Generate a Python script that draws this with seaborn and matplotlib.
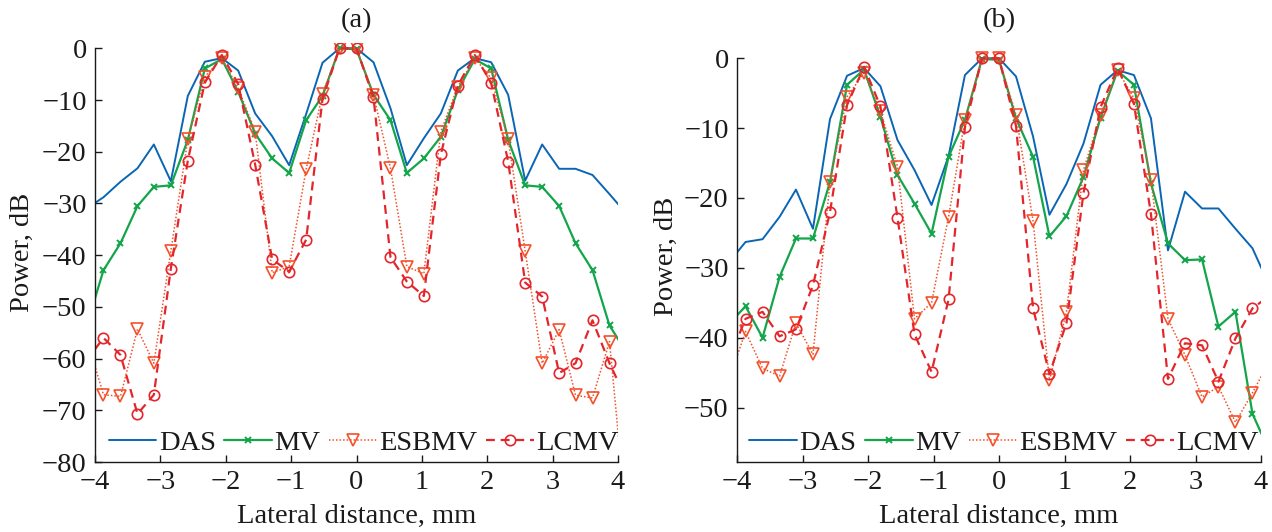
import matplotlib
matplotlib.use("Agg")
import matplotlib.pyplot as plt
import seaborn as sns

# Lateral sample positions, mm (the outermost samples fall just outside the axis range)
lateral_mm = [-4.13, -3.87, -3.61, -3.35, -3.10, -2.84, -2.58, -2.32, -2.06, -1.81, -1.55,
              -1.29, -1.03, -0.77, -0.52, -0.26, 0.00, 0.26, 0.52, 0.77, 1.03, 1.29,
              1.55, 1.81, 2.06, 2.32, 2.58, 2.84, 3.10, 3.35, 3.61, 3.87, 4.13]

# Panel (a): beam power profiles, dB
das_a = [-31.0, -28.8, -25.8, -23.2, -18.6, -25.7, -9.2, -2.6, -1.9, -4.3, -12.6,
         -17.0, -22.6, -12.7, -2.8, 0.0, 0.0, -2.7, -11.6, -22.6, -17.4, -12.6,
         -4.3, -1.9, -2.7, -9.0, -25.6, -18.6, -23.3, -23.3, -24.5, -28.2, -32.0]
mv_a = [-53.8, -42.9, -37.7, -30.5, -26.8, -26.5, -17.7, -3.9, -2.1, -8.4, -16.5,
        -21.3, -24.1, -13.9, -9.2, 0.0, -0.2, -9.0, -13.9, -24.1, -21.3, -17.1,
        -8.1, -2.1, -3.9, -17.7, -26.5, -26.8, -30.5, -37.7, -42.9, -53.6, -58.8]
esbmv_a = [-56.0, -67.0, -67.3, -54.3, -60.9, -39.2, -17.6, -5.5, -1.9, -7.7, -16.1,
           -43.4, -42.2, -23.4, -8.8, 0.0, 0.0, -9.0, -23.2, -42.2, -43.6, -16.1,
           -7.4, -1.9, -5.8, -17.6, -39.2, -60.9, -54.4, -67.1, -67.6, -56.7, -91.5]
lcmv_a = [-60.4, -56.0, -59.3, -70.7, -67.0, -42.6, -21.7, -6.6, -1.3, -6.9, -22.5,
          -40.8, -43.2, -37.0, -9.8, 0.0, 0.0, -9.5, -40.4, -45.1, -47.9, -20.5,
          -7.2, -1.3, -6.7, -21.9, -45.3, -48.0, -62.8, -60.9, -52.6, -60.9, -67.9]

# Panel (b): beam power profiles, dB
das_b = [-29.3, -26.3, -25.9, -22.7, -18.8, -24.4, -8.7, -2.5, -1.4, -4.0, -11.7,
         -16.0, -21.0, -14.0, -2.4, 0.0, 0.0, -2.6, -11.2, -22.4, -18.0, -12.2,
         -3.8, -1.7, -2.4, -8.6, -27.5, -19.1, -21.5, -21.5, -24.4, -27.2, -32.6]
mv_b = [-38.1, -35.5, -40.0, -31.3, -25.8, -25.8, -17.7, -3.8, -1.6, -8.4, -16.7,
        -20.8, -25.1, -14.1, -8.8, -0.1, -0.2, -8.6, -14.1, -25.5, -22.6, -17.0,
        -8.5, -1.8, -3.8, -17.9, -26.5, -28.9, -28.8, -38.4, -36.3, -50.9, -56.3]
esbmv_b = [-46.3, -39.1, -44.4, -45.5, -37.9, -42.4, -17.7, -5.5, -2.1, -7.6, -15.5,
           -37.3, -35.0, -22.7, -8.8, 0.0, 0.0, -8.1, -23.3, -46.1, -36.3, -16.0,
           -8.1, -1.7, -5.7, -17.4, -37.3, -42.5, -48.5, -47.0, -52.1, -47.9, -43.3]
lcmv_b = [-43.3, -37.3, -36.3, -39.8, -38.8, -32.5, -22.0, -6.7, -1.2, -6.9, -22.8,
          -39.5, -44.9, -34.5, -9.9, 0.0, 0.0, -9.7, -35.8, -45.2, -37.9, -19.3,
          -7.0, -1.4, -6.5, -22.3, -45.9, -40.8, -41.1, -46.3, -40.1, -35.8, -34.0]

method_names = ["DAS", "MV", "ESBMV", "LCMV"]
x_ticks = [-4, -3, -2, -1, 0, 1, 2, 3, 4]

FS = 20.5
sns.set_theme(style="ticks")
plt.rcParams.update({
    "font.family": ["Liberation Serif", "DejaVu Serif"],
    "font.size": FS,
    "axes.labelsize": FS,
    "axes.titlesize": FS,
    "xtick.labelsize": FS,
    "ytick.labelsize": FS,
    "legend.fontsize": FS,
    "xtick.direction": "in",
    "ytick.direction": "in",
    "xtick.major.size": 5,
    "ytick.major.size": 5,
    "xtick.major.width": 1.0,
    "ytick.major.width": 1.0,
    "xtick.major.pad": 6,
    "ytick.major.pad": 6,
    "axes.linewidth": 1.0,
    "axes.edgecolor": "#1a1a1a",
    "text.color": "#1a1a1a",
    "axes.labelcolor": "#1a1a1a",
    "xtick.color": "#1a1a1a",
    "ytick.color": "#1a1a1a",
})

blue = "#0a66b4"
green = "#13a54a"
orange = "#f4502a"
red = "#e3262b"

styles = {
    "DAS": dict(color=blue, lw=1.4, linestyle="-"),
    "MV": dict(color=green, lw=1.6, linestyle="-", marker="x", markersize=5,
               markeredgewidth=1.4, markeredgecolor=green),
    "ESBMV": dict(color=orange, lw=1.1, linestyle=(0, (1, 1.3)), marker="v",
                  markersize=9, markerfacecolor="none", markeredgecolor=orange,
                  markeredgewidth=1.2),
    "LCMV": dict(color=red, lw=1.6, linestyle=(0, (4, 2.6)), marker="o",
                 markersize=7.5, markerfacecolor="none", markeredgecolor=red,
                 markeredgewidth=1.2),
}

fig = plt.figure(figsize=(12.72, 5.32), dpi=100)
W, H = 1272.0, 532.0

panels = [
    dict(series=[das_a, mv_a, esbmv_a, lcmv_a], ymin=-80.0, title="(a)",
         left=95, right=618, zero_px=48.3, ylab_px=35, legend_shift_px=7),
    dict(series=[das_b, mv_b, esbmv_b, lcmv_b], ymin=-57.8, title="(b)",
         left=737, right=1261, zero_px=58.3, ylab_px=679, legend_shift_px=5),
]
bottom_px = 462.0
ytop = 1.0
title_baseline_px = 27.0

for p in panels:
    per_db = (bottom_px - p["zero_px"]) / (-p["ymin"])
    height_px = (bottom_px - p["zero_px"]) + ytop * per_db
    width_px = p["right"] - p["left"]
    ax = fig.add_axes([p["left"] / W, (H - bottom_px) / H, width_px / W, height_px / H])
    for name, vals in zip(method_names, p["series"]):
        sns.lineplot(x=lateral_mm, y=vals, ax=ax, label=name, legend=False,
                     estimator=None, sort=False, **styles[name])

    ax.set_xlim(-4, 4)
    ax.set_ylim(p["ymin"], ytop)
    ax.spines["top"].set_visible(False)
    ax.spines["right"].set_visible(False)
    ax.spines["left"].set_bounds(p["ymin"], 0)
    ax.set_xticks(x_ticks)
    ax.set_yticks([v for v in range(0, -81, -10) if v >= p["ymin"]])

    ax.set_xlabel("Lateral distance, mm")
    ax.set_ylabel("Power, dB")
    ax.xaxis.set_label_coords(0.5, (bottom_px - 504) / height_px)
    ax.yaxis.set_label_coords((p["ylab_px"] - p["left"]) / width_px, 0.5)

    axes_top_px = bottom_px - height_px
    ax.set_title(p["title"], pad=(axes_top_px - title_baseline_px) * 72 / 100)

    ax.legend(loc="center",
              bbox_to_anchor=(0.5 + p["legend_shift_px"] / width_px, (bottom_px - 443) / height_px),
              ncol=4, frameon=False, handlelength=1.68, handletextpad=0.08,
              columnspacing=0.3, borderaxespad=0, borderpad=0, numpoints=1)

fig.savefig("out.png", dpi=100)
